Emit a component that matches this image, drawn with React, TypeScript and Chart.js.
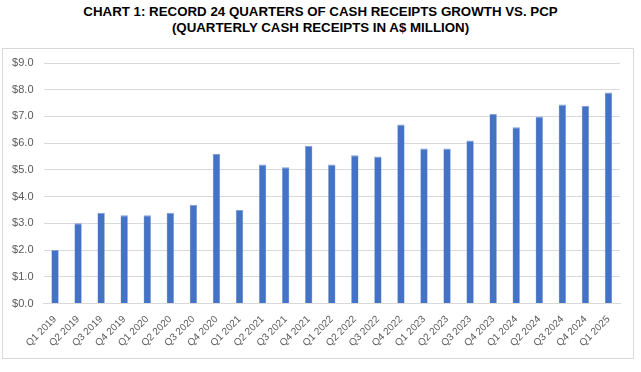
import React, { useEffect, useRef } from "react";
import { Chart, registerables } from "chart.js";

Chart.register(...registerables);

const titleLines = [
  "CHART 1: RECORD 24 QUARTERS OF CASH RECEIPTS GROWTH VS. PCP",
  "(QUARTERLY CASH RECEIPTS IN A$ MILLION)",
];

const quarters = [
  "Q1 2019", "Q2 2019", "Q3 2019", "Q4 2019",
  "Q1 2020", "Q2 2020", "Q3 2020", "Q4 2020",
  "Q1 2021", "Q2 2021", "Q3 2021", "Q4 2021",
  "Q1 2022", "Q2 2022", "Q3 2022", "Q4 2022",
  "Q1 2023", "Q2 2023", "Q3 2023", "Q4 2023",
  "Q1 2024", "Q2 2024", "Q3 2024", "Q4 2024",
  "Q1 2025",
];

const cashReceipts = [
  2.0, 3.0, 3.4, 3.3,
  3.3, 3.4, 3.7, 5.6,
  3.5, 5.2, 5.1, 5.9,
  5.2, 5.55, 5.5, 6.7,
  5.8, 5.8, 6.1, 7.1,
  6.6, 7.0, 7.45, 7.4,
  7.9,
];

const yMin = 0;
const yMax = 9;
const yStep = 1;

export default function App() {
  const canvasRef = useRef<HTMLCanvasElement | null>(null);

  useEffect(() => {
    if (!canvasRef.current) return;
    const chart = new Chart(canvasRef.current, {
      type: "bar",
      data: {
        labels: quarters,
        datasets: [
          {
            label: "Cash receipts",
            data: cashReceipts,
            backgroundColor: "#4472C4",
            borderColor: "#7f9fd8",
            borderWidth: { top: 1, left: 0.5, right: 0.5, bottom: 0 },
            categoryPercentage: 1,
            barPercentage: 0.32,
          },
        ],
      },
      options: {
        animation: false,
        responsive: false,
        maintainAspectRatio: false,
        layout: { padding: { left: 0, right: 21, top: 63, bottom: 0 } },
        plugins: {
          legend: { display: false },
          title: { display: false },
          tooltip: { enabled: false },
        },
        scales: {
          x: {
            grid: { display: false },
            border: { display: true, color: "#d9d9d9", width: 1 },
            ticks: {
              color: "#595959",
              font: { family: "Liberation Sans", size: 10 },
              maxRotation: 45,
              minRotation: 45,
              autoSkip: false,
              padding: 2,
            },
            afterFit: (scale: any) => {
              scale.height = 372 - 303.5;
            },
          },
          y: {
            min: yMin,
            max: yMax,
            grid: { color: "#d9d9d9", drawTicks: false, lineWidth: 1 },
            border: { display: false },
            ticks: {
              stepSize: yStep,
              color: "#595959",
              font: { family: "Liberation Sans", size: 11 },
              padding: 10,
              callback: (v: any) => "$" + Number(v).toFixed(1),
            },
            afterFit: (scale: any) => {
              scale.width = 43.5;
            },
          },
        },
      },
    });
    return () => chart.destroy();
  }, []);

  return (
    <div
      style={{
        position: "absolute",
        left: 0,
        top: 0,
        width: 641,
        height: 372,
        background: "#ffffff",
        overflow: "hidden",
      }}
    >
      <div
        style={{
          position: "absolute",
          left: 0,
          top: 4,
          width: 641,
          textAlign: "center",
          fontFamily: "'Liberation Sans', Arial, sans-serif",
          fontWeight: "bold",
          fontSize: "13.3px",
          lineHeight: "16px",
          color: "#000000",
        }}
      >
        {titleLines.map((t) => (
          <div key={t}>{t}</div>
        ))}
      </div>
      <div
        style={{
          position: "absolute",
          left: 2,
          top: 48,
          width: 632,
          height: 311,
          border: "1px solid #d9d9d9",
          boxSizing: "border-box",
        }}
      />
      <canvas
        ref={canvasRef}
        width={641}
        height={372}
        style={{ position: "absolute", left: 0, top: 0, width: 641, height: 372 }}
      />
    </div>
  );
}
